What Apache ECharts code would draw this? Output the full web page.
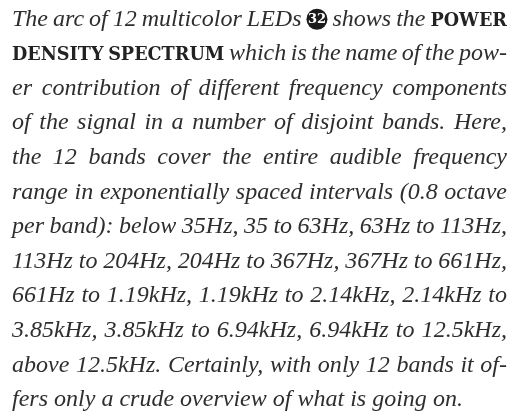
<!DOCTYPE html>
<html>
<head>
<meta charset="utf-8" />
<script src="https://cdn.jsdelivr.net/npm/echarts@6.0.0/dist/echarts.min.js"></script>
</head>
<body style="margin:0;background:#fff">
<div id="main" style="width:512px;height:419px;"></div>
<script type="text/javascript">
// paragraph lines as printed; {sc|..} = bold small caps, {badge|..} = round callout
var lines = [
  'The arc of 12 multicolor LEDs {badge|32} shows the {sc|POWER}',
  '{sc|DENSITY} {sc|SPECTRUM} which is the name of the pow-',
  'er contribution of different frequency components',
  'of the signal in a number of disjoint bands. Here,',
  'the 12 bands cover the entire audible frequency',
  'range in exponentially spaced intervals (0.8 octave',
  'per band): below 35Hz, 35 to 63Hz, 63Hz to 113Hz,',
  '113Hz to 204Hz, 204Hz to 367Hz, 367Hz to 661Hz,',
  '661Hz to 1.19kHz, 1.19kHz to 2.14kHz, 2.14kHz to',
  '3.85kHz, 3.85kHz to 6.94kHz, 6.94kHz to 12.5kHz,',
  'above 12.5kHz. Certainly, with only 12 bands it of-',
  'fers only a crude overview of what is going on.'
];

var itFamily = '"Liberation Serif"';
var scFamily = '"DejaVu Serif"';
var left = 12, right = 507;
var firstBaseline = 26.5, leading = 34.6;
var ink = '#2e2e2e';

var ctx = document.createElement('canvas').getContext('2d');
function measure(text, font) {
  ctx.font = font;
  return ctx.measureText(text).width;
}

// pick sizes so the last line and the bold words come out as wide as in print
var itSize = 20 * 451 / measure(lines[11], 'italic 20px ' + itFamily);
var scSize = 20 * 214 / measure('DENSITY SPECTRUM', 'bold 20px ' + scFamily);
var itFont = 'italic ' + itSize.toFixed(2) + 'px ' + itFamily;
var scFont = 'bold ' + scSize.toFixed(2) + 'px ' + scFamily;
var badgeR = 10.5;

function tokens(line) {
  return line.split(' ').map(function (w) {
    var m = w.match(/^\{(\w+)\|(.*)\}$/);
    var kind = m ? m[1] : 'it';
    var text = m ? m[2] : w;
    var width = kind === 'badge' ? badgeR * 2 : measure(text, kind === 'sc' ? scFont : itFont);
    return { kind: kind, text: text, width: width };
  });
}

var elements = [];
lines.forEach(function (line, i) {
  var words = tokens(line);
  var used = words.reduce(function (s, w) { return s + w.width; }, 0);
  var last = i === lines.length - 1;
  var gap = last ? measure(' ', itFont) : (right - left - used) / (words.length - 1);
  var y = firstBaseline + i * leading;
  var x = left;
  words.forEach(function (w) {
    if (w.kind === 'badge') {
      elements.push({
        type: 'circle',
        shape: { cx: x + badgeR, cy: y - itSize * 0.3, r: badgeR },
        style: { fill: '#1b1b1b' }
      });
      elements.push({
        type: 'text',
        x: x + badgeR,
        y: y - itSize * 0.3,
        style: {
          text: w.text, fill: '#fff', font: 'bold 13px ' + scFamily,
          align: 'center', verticalAlign: 'middle'
        }
      });
    } else {
      var size = w.kind === 'sc' ? scSize : itSize;
      elements.push({
        type: 'text',
        x: x,
        y: y - size * 0.3,
        style: {
          text: w.text, fill: w.kind === 'sc' ? '#222' : ink,
          font: w.kind === 'sc' ? scFont : itFont,
          align: 'left', verticalAlign: 'middle'
        }
      });
    }
    x += w.width + gap;
  });
});

var myChart = echarts.init(document.getElementById('main'));
myChart.setOption({
  backgroundColor: '#fff',
  animation: false,
  graphic: { elements: elements }
});
</script>
</body>
</html>
